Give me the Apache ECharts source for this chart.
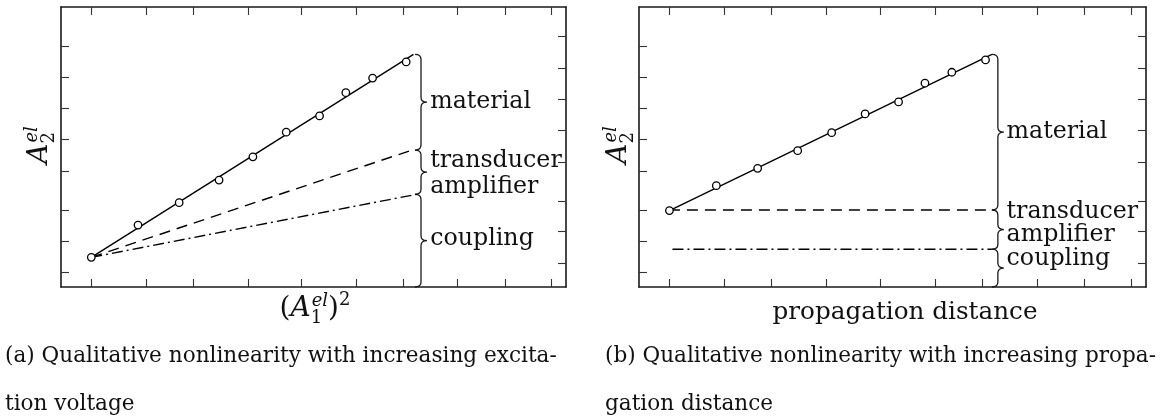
<!DOCTYPE html>
<html><head><meta charset="utf-8">
<script src="https://cdn.jsdelivr.net/npm/echarts@6/dist/echarts.min.js"></script>
<style>html,body{margin:0;padding:0;background:#fff;}#c{width:1167px;height:417px;}</style>
</head><body><div id="c"></div>
<script>
// ---------- data (axis units 0..100 in both panels) ----------
const xTicks = [6.0, 16.9, 26.1, 37.0, 47.6, 58.5, 67.8, 78.5, 87.9, 97.1];
const yTicksLeft = [5.3, 16.4, 27.5, 41.4, 52.6, 63.8, 74.9, 86.1];
const yTicksRight = [8.6, 19.9, 30.7, 44.5, 56.1, 66.9, 78.1, 89.4];

const measX = [6.0, 15.25, 23.4, 31.3, 38.0, 44.6, 51.2, 56.4, 61.7, 68.35];
const measA = [10.6, 22.1, 30.1, 38.2, 46.5, 55.3, 61.1, 69.4, 74.6, 80.4];
const measB = [27.3, 36.2, 42.4, 48.7, 55.1, 61.8, 66.1, 72.8, 76.7, 81.1];

const totalA   = [[6.0, 10.6], [69.8, 83.1]];
const dashedA  = [[6.0, 10.6], [69.5, 48.9]];
const dashdotA = [[6.0, 10.6], [70.4, 33.1]];
const totalB   = [[6.0, 27.3], [69.6, 83.1]];
const dashedB  = [[5.9, 27.5], [69.2, 27.5]];
const dashdotB = [[6.6, 13.5], [69.6, 13.5]];

const contributions = ['material', 'transducer', 'amplifier', 'coupling'];
const bracesA = [[70.1, 83.1, 48.9], [70.1, 48.9, 33.1], [70.1, 33.1, 0]];
const bracesB = [[69.6, 83.1, 27.5], [69.6, 27.5, 13.5], [69.6, 13.5, 0]];
const labelsA = [[73.1, 66.3], [73.1, 45.0], [73.1, 35.6], [73.1, 17.3]];
const labelsB = [[72.5, 55.4], [72.5, 26.7], [72.5, 18.5], [72.5, 10.0]];

const xNameB = 'propagation distance';
const captionA = ['(a) Qualitative nonlinearity with increasing excita-', 'tion voltage'];
const captionB = ['(b) Qualitative nonlinearity with increasing propa-', 'gation distance'];

// ---------- helpers ----------
const SERIF = '"DejaVu Serif", "Liberation Serif", serif';
const ctx = document.createElement('canvas').getContext('2d');
function fontStr(size, italic) { return (italic ? 'italic ' : '') + size + 'px ' + SERIF; }
function meas(t, size, italic) { ctx.font = fontStr(size, italic); return ctx.measureText(t).width; }
function fitSize(t, width) { return 100 * width / meas(t, 100, false); }

const labelSize = (fitSize('transducer', 129) + fitSize('material', 103)) / 2;
const capSize = (fitSize(captionA[0], 551) + fitSize(captionB[0], 552)) / 2;
const xNameSize = fitSize(xNameB, 265);
const INK = '#111';

function mathGroup(parts, x, y, rotation) {
  let cx = 0; const kids = [];
  const add = (p, at) => kids.push({
    type: 'text', x: at + (p.dx || 0), y: (p.dy || 0) - 0.35 * p.size,
    style: { text: p.t, font: fontStr(p.size, p.it), fill: INK, align: 'left', verticalAlign: 'middle' }
  });
  parts.forEach(p => {
    if (p.stack) {
      let w = 0;
      p.stack.forEach(s => { add(s, cx); w = Math.max(w, meas(s.t, s.size, s.it) + (s.dx || 0)); });
      cx += w;
    } else { add(p, cx); cx += meas(p.t, p.size, p.it) + (p.kern || 0); }
  });
  kids.forEach(k => { k.x -= cx / 2; });
  return { type: 'group', x: x, y: y, rotation: rotation || 0, children: kids, silent: true };
}

function braceItem(params, api) {
  const a = api.coord([api.value(0), api.value(1)]);
  const b = api.coord([api.value(0), api.value(2)]);
  const x0 = a[0], y1 = a[1], y2 = b[1], ym = (y1 + y2) / 2, w = 6;
  const r = Math.min(5, (y2 - y1) / 5);
  const d = 'M' + x0 + ' ' + y1 + ' Q' + (x0 + w) + ' ' + y1 + ' ' + (x0 + w) + ' ' + (y1 + r) +
    ' L' + (x0 + w) + ' ' + (ym - r) + ' Q' + (x0 + w) + ' ' + ym + ' ' + (x0 + 2 * w) + ' ' + ym +
    ' Q' + (x0 + w) + ' ' + ym + ' ' + (x0 + w) + ' ' + (ym + r) +
    ' L' + (x0 + w) + ' ' + (y2 - r) + ' Q' + (x0 + w) + ' ' + y2 + ' ' + x0 + ' ' + y2;
  return { type: 'path', shape: { pathData: d }, style: { fill: 'none', stroke: '#1a1a1a', lineWidth: 1.3 } };
}

function xAx(grid, pos) {
  return { type: 'value', gridIndex: grid, position: pos, min: 0, max: 100,
    axisLine: { show: true, onZero: false, lineStyle: { color: '#1a1a1a', width: 1.6 } },
    axisTick: { show: true, inside: true, length: 8, customValues: xTicks, lineStyle: { color: '#333', width: 1.1 } },
    axisLabel: { show: false }, splitLine: { show: false } };
}
function yAx(grid, pos, ticks) {
  return { type: 'value', gridIndex: grid, position: pos, min: 0, max: 100,
    axisLine: { show: true, onZero: false, lineStyle: { color: '#1a1a1a', width: 1.6 } },
    axisTick: { show: true, inside: true, length: 8, customValues: ticks, lineStyle: { color: '#333', width: 1.1 } },
    axisLabel: { show: false }, splitLine: { show: false } };
}

function panelSeries(xi, total, dashed, dashdot, pts, braces, labels) {
  const base = { xAxisIndex: xi, yAxisIndex: xi, animation: false, silent: true };
  return [
    Object.assign({ type: 'line', data: total, symbol: 'none', lineStyle: { color: '#000', width: 1.4 } }, base),
    Object.assign({ type: 'line', data: dashed, symbol: 'none', lineStyle: { color: '#000', width: 1.4, type: [11, 7] } }, base),
    Object.assign({ type: 'line', data: dashdot, symbol: 'none', lineStyle: { color: '#000', width: 1.4, type: [11, 4, 2, 4] } }, base),
    Object.assign({ type: 'scatter', data: measX.map((x, i) => [x, pts[i]]), symbol: 'circle', symbolSize: 7.5, z: 5,
      itemStyle: { color: '#fff', borderColor: '#000', borderWidth: 1.3, opacity: 1 } }, base),
    Object.assign({ type: 'custom', data: braces, renderItem: braceItem, clip: false }, base),
    Object.assign({ type: 'scatter', symbolSize: 0, itemStyle: { opacity: 1 },
      data: labels.map((p, i) => ({ value: p, name: contributions[i] })),
      label: { show: true, position: 'right', distance: 0, formatter: '{b}', fontFamily: SERIF, fontSize: labelSize, color: INK, opacity: 1 } }, base)
  ];
}

const chart = echarts.init(document.getElementById('c'), null, { renderer: 'canvas' });
const gA = { left: 61, top: 7, width: 505, height: 280 };
const gB = { left: 639, top: 7, width: 507, height: 280 };

const yLabel = [ { t: 'A', size: 28, it: true },
  { stack: [ { t: 'el', size: 18, it: true, dy: -11, dx: 1 }, { t: '2', size: 18, dy: 6 } ] } ];
const xLabelA = [ { t: '(', size: 28 }, { t: 'A', size: 28, it: true },
  { stack: [ { t: 'el', size: 18, it: true, dy: -11, dx: 1 }, { t: '1', size: 18, dy: 6 } ] },
  { t: ')', size: 28 }, { t: '2', size: 18, dy: -12 } ];

const graphics = [
  mathGroup(yLabel, 50, 145, Math.PI / 2),
  mathGroup(yLabel, 629, 145, Math.PI / 2),
  mathGroup(xLabelA, 315, 319, 0),
  { type: 'text', x: 905, y: 313, silent: true, style: { text: xNameB, font: fontStr(xNameSize), fill: INK, align: 'center', verticalAlign: 'middle' } },
  { type: 'text', x: 5, y: 356, silent: true, style: { text: captionA[0], font: fontStr(capSize), fill: INK, align: 'left', verticalAlign: 'middle' } },
  { type: 'text', x: 5, y: 404, silent: true, style: { text: captionA[1], font: fontStr(capSize), fill: INK, align: 'left', verticalAlign: 'middle' } },
  { type: 'text', x: 605, y: 356, silent: true, style: { text: captionB[0], font: fontStr(capSize), fill: INK, align: 'left', verticalAlign: 'middle' } },
  { type: 'text', x: 605, y: 404, silent: true, style: { text: captionB[1], font: fontStr(capSize), fill: INK, align: 'left', verticalAlign: 'middle' } }
];

chart.setOption({
  animation: false,
  backgroundColor: '#fff',
  grid: [gA, gB],
  xAxis: [xAx(0, 'bottom'), xAx(0, 'top'), xAx(1, 'bottom'), xAx(1, 'top')],
  yAxis: [yAx(0, 'left', yTicksLeft), yAx(0, 'right', yTicksRight), yAx(1, 'left', yTicksLeft), yAx(1, 'right', yTicksRight)],
  series: [].concat(
    panelSeries(0, totalA, dashedA, dashdotA, measA, bracesA, labelsA),
    panelSeries(2, totalB, dashedB, dashdotB, measB, bracesB, labelsB)
  ),
  graphic: graphics
});
</script></body></html>
